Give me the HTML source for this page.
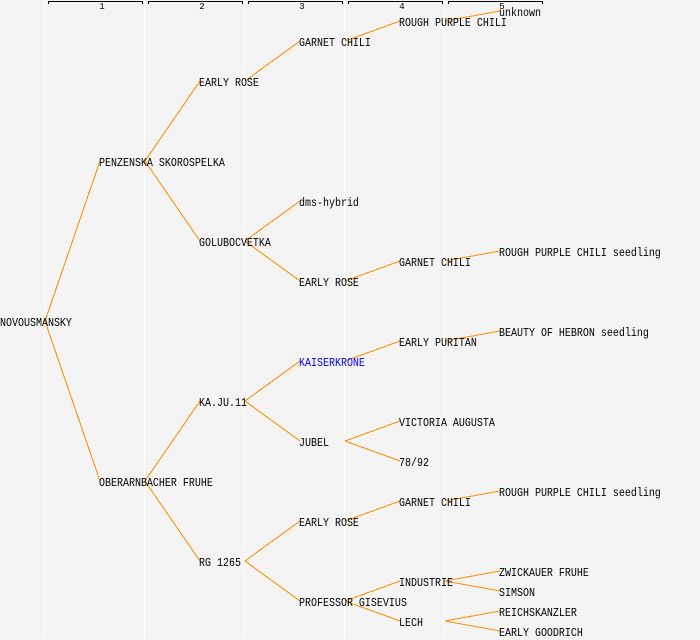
<!DOCTYPE html>
<html>
<head>
<meta charset="utf-8">
<style>
html,body{margin:0;padding:0;background:#f4f4f4;}
svg{display:block;}
text{font-family:"Liberation Mono",monospace;font-size:12px;fill:#000;transform-box:fill-box;transform-origin:0 50%;transform:scaleX(.8333);}
text.n{font-size:9px;text-anchor:middle;transform:none;}
</style>
</head>
<body>
<svg width="700" height="640" viewBox="0 0 700 640" xmlns="http://www.w3.org/2000/svg">
<rect width="700" height="640" fill="#f4f4f4"/>
<g stroke="#ffffff" stroke-width="1" shape-rendering="crispEdges">
<line x1="44.5" y1="0" x2="44.5" y2="638"/>
<line x1="144.5" y1="0" x2="144.5" y2="638"/>
<line x1="244.5" y1="0" x2="244.5" y2="638"/>
<line x1="344.5" y1="0" x2="344.5" y2="638"/>
<line x1="444.5" y1="0" x2="444.5" y2="638"/>
</g>
<g fill="none" stroke="#000" stroke-width="1" shape-rendering="crispEdges">
<path d="M48.5 4V1.5H142.5V4"/>
<path d="M148.5 4V1.5H242.5V4"/>
<path d="M248.5 4V1.5H342.5V4"/>
<path d="M348.5 4V1.5H442.5V4"/>
<path d="M448.5 4V1.5H542.5V4"/>
</g>
<g stroke="#ff8c00" stroke-width="1" fill="none" shape-rendering="crispEdges">
<line x1="45" y1="321" x2="100" y2="161"/>
<line x1="45" y1="321" x2="100" y2="481"/>
<line x1="145" y1="161" x2="200" y2="81"/>
<line x1="145" y1="161" x2="200" y2="241"/>
<line x1="245" y1="81" x2="300" y2="41"/>
<line x1="345" y1="41" x2="400" y2="21"/>
<line x1="445" y1="21" x2="500" y2="11"/>
<line x1="245" y1="241" x2="300" y2="201"/>
<line x1="245" y1="241" x2="300" y2="281"/>
<line x1="345" y1="281" x2="400" y2="261"/>
<line x1="445" y1="261" x2="500" y2="251"/>
<line x1="145" y1="481" x2="200" y2="401"/>
<line x1="145" y1="481" x2="200" y2="561"/>
<line x1="245" y1="401" x2="300" y2="361"/>
<line x1="245" y1="401" x2="300" y2="441"/>
<line x1="345" y1="361" x2="400" y2="341"/>
<line x1="445" y1="341" x2="500" y2="331"/>
<line x1="345" y1="441" x2="400" y2="421"/>
<line x1="345" y1="441" x2="400" y2="461"/>
<line x1="245" y1="561" x2="300" y2="521"/>
<line x1="245" y1="561" x2="300" y2="601"/>
<line x1="345" y1="521" x2="400" y2="501"/>
<line x1="445" y1="501" x2="500" y2="491"/>
<line x1="345" y1="601" x2="400" y2="581"/>
<line x1="345" y1="601" x2="400" y2="621"/>
<line x1="445" y1="581" x2="500" y2="571"/>
<line x1="445" y1="581" x2="500" y2="591"/>
<line x1="445" y1="621" x2="500" y2="611"/>
<line x1="445" y1="621" x2="500" y2="631"/>
</g>
<text class="n" x="102" y="9">1</text>
<text class="n" x="202" y="9">2</text>
<text class="n" x="302" y="9">3</text>
<text class="n" x="402" y="9">4</text>
<text class="n" x="502" y="9">5</text>
<text x="0" y="326">NOVOUSMANSKY</text>
<text x="99" y="166">PENZENSKA SKOROSPELKA</text>
<text x="99" y="486">OBERARNBACHER FRUHE</text>
<text x="199" y="86">EARLY ROSE</text>
<text x="199" y="246">GOLUBOCVETKA</text>
<text x="199" y="406">KA.JU.11</text>
<text x="199" y="566">RG 1265</text>
<text x="299" y="46">GARNET CHILI</text>
<text x="299" y="206">dms-hybrid</text>
<text x="299" y="286">EARLY ROSE</text>
<text x="299" y="366" style="fill:#0000ff">KAISERKRONE</text>
<text x="299" y="446">JUBEL</text>
<text x="299" y="526">EARLY ROSE</text>
<text x="299" y="606">PROFESSOR GISEVIUS</text>
<text x="399" y="26">ROUGH PURPLE CHILI</text>
<text x="399" y="266">GARNET CHILI</text>
<text x="399" y="346">EARLY PURITAN</text>
<text x="399" y="426">VICTORIA AUGUSTA</text>
<text x="399" y="466">78/92</text>
<text x="399" y="506">GARNET CHILI</text>
<text x="399" y="586">INDUSTRIE</text>
<text x="399" y="626">LECH</text>
<text x="499" y="16">unknown</text>
<text x="499" y="256">ROUGH PURPLE CHILI seedling</text>
<text x="499" y="336">BEAUTY OF HEBRON seedling</text>
<text x="499" y="496">ROUGH PURPLE CHILI seedling</text>
<text x="499" y="576">ZWICKAUER FRUHE</text>
<text x="499" y="596">SIMSON</text>
<text x="499" y="616">REICHSKANZLER</text>
<text x="499" y="636">EARLY GOODRICH</text>
</svg>
</body>
</html>
